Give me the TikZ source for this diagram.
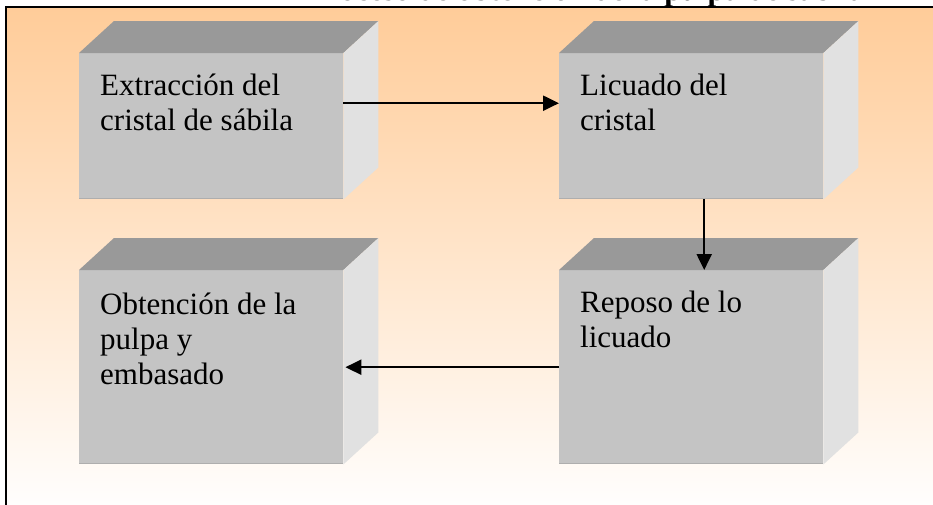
\documentclass[tikz,border=0pt]{standalone}
\usepackage{fontspec}
\setmainfont{Liberation Serif}
\usetikzlibrary{arrows.meta,calc}
\definecolor{peach}{HTML}{FFCC99}
\definecolor{topgray}{HTML}{999999}
\definecolor{frontgray}{HTML}{C4C4C4}
\definecolor{sidegray}{HTML}{E1E1E1}
\definecolor{edgegray}{HTML}{AEAEAE}
\tikzset{
  front/.style={fill=frontgray, minimum width=264pt, inner sep=0pt, draw=none},
  lbl/.style={font=\fontsize{31}{35}\selectfont, align=left, inner sep=0pt, text=black},
  arr/.style={line width=2.2pt, -{Triangle[length=16pt,width=15pt]}},
  topface/.style={fill=topgray},
  sideface/.style={fill=sidegray},
  bottomedge/.style={draw=edgegray, line width=1.6pt}
}
\newcommand\boxfaces[1]{%
  \fill[topface] (#1.north west) -- (#1.north east) -- ++(35,-32) -- ($(#1.north west)+(35,-32)$) -- cycle;
  \fill[sideface] (#1.north east) -- ++(35,-32) -- ($(#1.south east)+(35,-32)$) -- (#1.south east) -- cycle;
  \draw[bottomedge] ([yshift=0.8pt]#1.south west) -- ([yshift=0.8pt]#1.south east);
}
\begin{document}
\begin{tikzpicture}[x=1pt,y=-1pt]
\useasboundingbox (0,0) rectangle (933,504);
\clip (0,0) rectangle (933,504);
\fill[white] (0,0) rectangle (933,504);
\shade[top color=peach, bottom color=white] (6,7) rectangle (940,515);
\draw[line width=2pt] (6,7) rectangle (940,515);
\node[font=\bfseries\fontsize{31}{35}\selectfont, anchor=base, inner sep=0pt] (title) at (586,0.5) {Proceso de obtención de la pulpa de sábila};

\node[front, minimum height=146pt, anchor=north west] (b1) at (79,53) {};
\boxfaces{b1}
\node[front, minimum height=146pt, anchor=north west] (b2) at (559,53) {};
\boxfaces{b2}
\node[front, minimum height=194pt, anchor=north west] (b3) at (79,270) {};
\boxfaces{b3}
\node[front, minimum height=194pt, anchor=north west] (b4) at (559,270) {};
\boxfaces{b4}

\node[lbl, anchor=north west] (t1) at ($(b1.north west)+(21,21)$) {Extracción del\\cristal de sábila};
\node[lbl, anchor=north west] (t2) at ($(b2.north west)+(21,21)$) {Licuado del\\cristal};
\node[lbl, anchor=north west] (t3) at ($(b3.north west)+(21,23)$) {Obtención de la\\pulpa y\\embasado};
\node[lbl, anchor=north west] (t4) at ($(b4.north west)+(21,21)$) {Reposo de lo\\licuado};

\draw[arr] ([yshift=23pt]b1.east) -- ([yshift=23pt]b2.west);
\draw[arr] ([xshift=13pt]b2.south) -- ([xshift=13pt]b4.north);
\draw[arr] (b4.west) -- ([xshift=2pt]b3.east);
\end{tikzpicture}
\end{document}
